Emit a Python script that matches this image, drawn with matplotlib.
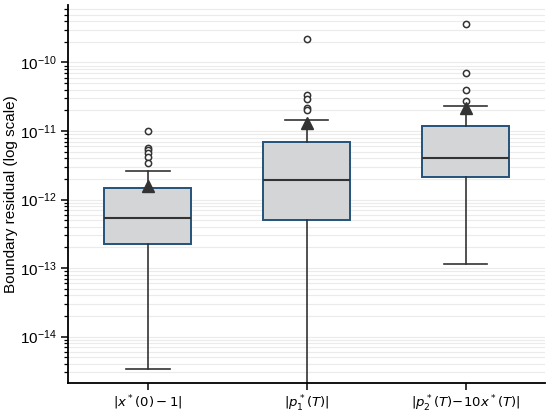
import matplotlib.pyplot as plt
from matplotlib.ticker import LogLocator, NullFormatter

plt.rcParams['font.family'] = ['Liberation Sans', 'DejaVu Sans']

labels = [r'$|x^*(0)-1|$', r'$|p_1^*(T)|$', r'$|p_2^*(T)\!-\!10x^*(T)|$']
q1 = [2.25e-13, 5.1e-13, 2.1e-12]
med = [5.3e-13, 1.95e-12, 4.0e-12]
q3 = [1.45e-12, 6.9e-12, 1.18e-11]
whislo = [3.4e-15, 1.0e-15, 1.15e-13]
whishi = [2.6e-12, 1.45e-11, 2.3e-11]
means = [1.55e-12, 1.3e-11, 2.2e-11]
fliers = [
    [1.0e-11, 5.6e-12, 5.2e-12, 4.8e-12, 4.2e-12, 3.4e-12],
    [2.2e-10, 3.3e-11, 2.9e-11, 2.2e-11, 2.0e-11],
    [3.7e-10, 7.0e-11, 4.0e-11, 2.7e-11],
]

stats = []
for i in range(len(labels)):
    stats.append(dict(label=labels[i], q1=q1[i], med=med[i], q3=q3[i],
                      whislo=whislo[i], whishi=whishi[i], mean=means[i],
                      fliers=fliers[i]))

fig = plt.figure(figsize=(5.5, 4.15), dpi=100)
ax = fig.add_axes([0.124, 0.077, 0.867, 0.911])

ax.bxp(stats, positions=range(len(labels)), widths=0.55, patch_artist=True,
       showmeans=True,
       boxprops=dict(facecolor='#d4d5d7', edgecolor='#24527a', linewidth=1.4),
       medianprops=dict(color='#333333', linewidth=1.5),
       whiskerprops=dict(color='#333333', linewidth=1.2),
       capprops=dict(color='#333333', linewidth=1.2),
       meanprops=dict(marker='^', markerfacecolor='#333333', markeredgecolor='#333333', markersize=9),
       flierprops=dict(marker='o', markerfacecolor='white', markeredgecolor='#333333',
                       markersize=4.5, markeredgewidth=1.1))

ax.set_yscale('log')
ax.set_ylim(2.1e-15, 6.9e-10)
ax.set_xlim(-0.5, 2.5)
ax.yaxis.set_major_locator(LogLocator(base=10, numticks=20))
ax.yaxis.set_minor_locator(LogLocator(base=10, subs=range(2, 10), numticks=50))
ax.yaxis.set_minor_formatter(NullFormatter())
ax.grid(True, which='both', axis='y', color='#ebebeb', linewidth=0.8)
ax.set_axisbelow(True)

ax.spines['top'].set_visible(False)
ax.spines['right'].set_visible(False)
ax.spines['left'].set_linewidth(1.3)
ax.spines['bottom'].set_linewidth(1.3)
ax.tick_params(axis='y', which='major', length=5, width=1.1, labelsize=11)
ax.tick_params(axis='x', which='major', length=5, width=1.1, labelsize=9.5, pad=2.5)
ax.tick_params(axis='y', which='minor', length=3, width=0.9)
ax.set_ylabel('Boundary residual (log scale)', fontsize=11, labelpad=1)

fig.savefig('out.png', dpi=100)
